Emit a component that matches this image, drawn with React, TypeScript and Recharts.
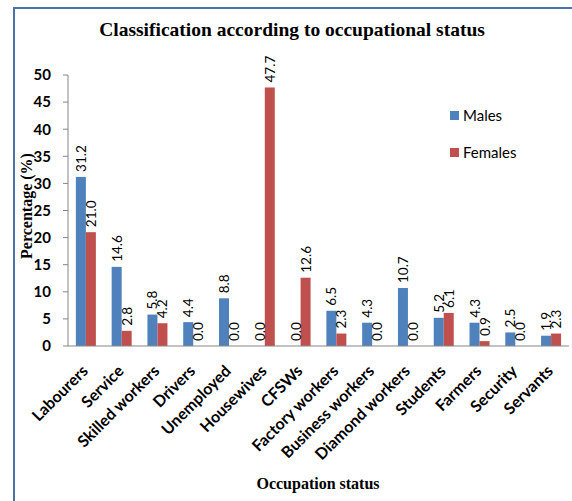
import { BarChart, Bar, XAxis, YAxis, Legend } from 'recharts';

const categories = [
  'Labourers', 'Service', 'Skilled workers', 'Drivers', 'Unemployed', 'Housewives', 'CFSWs',
  'Factory workers', 'Business workers', 'Diamond workers', 'Students', 'Farmers', 'Security', 'Servants',
];
const males = [31.2, 14.6, 5.8, 4.4, 8.8, 0.0, 0.0, 6.5, 4.3, 10.7, 5.2, 4.3, 2.5, 1.9];
const females = [21.0, 2.8, 4.2, 0.0, 0.0, 47.7, 12.6, 2.3, 0.0, 0.0, 6.1, 0.9, 0.0, 2.3];
const yTicks = [0, 5, 10, 15, 20, 25, 30, 35, 40, 45, 50];

const data = categories.map((name, i) => ({ name, males: males[i], females: females[i] }));

const SANS = 'Lato, "Open Sans", sans-serif';
const SERIF = '"Liberation Serif", "Times New Roman", serif';

const XTick = ({ x, payload }: any) => {
  const tx = x + 3;
  const ty = 372;
  return (
    <text
      x={tx}
      y={ty}
      transform={`rotate(-45, ${tx}, ${ty})`}
      textAnchor="end"
      fontFamily={SANS}
      fontWeight={700}
      fontSize={16}
      fill="#000"
    >
      {payload.value}
    </text>
  );
};

const renderValue = (props: any) => {
  const { x, y, width, height, value, index } = props;
  const cx = x + width / 2;
  // zero bars get a 1px placeholder height, so measure from their base
  const top = Number(value) === 0 ? y + height : y;
  const cy = top - 5;
  return (
    <text
      key={`v-${index}-${cx}`}
      x={cx}
      y={cy}
      transform={`rotate(-90, ${cx}, ${cy})`}
      textAnchor="start"
      dominantBaseline="central"
      fontFamily={SANS}
      fontSize={13.5}
      fill="#000"
    >
      {Number(value).toFixed(1)}
    </text>
  );
};

const barShape = (fill: string, key: 'males' | 'females') => (props: any) => {
  const { x, y, width, height, payload } = props;
  if (!payload || payload[key] === 0) return <g />;
  return <rect x={x} y={y} width={width} height={height} fill={fill} />;
};

const LegendBox = () => (
  <div style={{ fontFamily: SANS, fontSize: 15, color: '#000' }}>
    <div style={{ display: 'flex', alignItems: 'center', height: 20 }}>
      <span style={{ width: 9, height: 9, background: '#4F81BD', marginRight: 4 }} />
      Males
    </div>
    <div style={{ display: 'flex', alignItems: 'center', height: 20, marginTop: 17 }}>
      <span style={{ width: 9, height: 9, background: '#C0504D', marginRight: 4 }} />
      Females
    </div>
  </div>
);

export default function App() {
  return (
    <div style={{ position: 'absolute', left: 0, top: 0, width: 572, height: 501, background: '#fff' }}>
      <div
        style={{
          position: 'absolute', left: 13, top: 7, width: 600, height: 520,
          borderLeft: '2px solid #4a74a8', borderTop: '2px solid #4a74a8',
        }}
      />
      <div
        style={{
          position: 'absolute', left: 0, top: 19, width: 584, textAlign: 'center',
          fontFamily: SERIF, fontWeight: 700, fontSize: 19.5, color: '#000',
        }}
      >
        Classification according to occupational status
      </div>
      <div
        style={{
          position: 'absolute', left: 27, top: 206, transform: 'translate(-50%, -50%) rotate(-90deg)',
          whiteSpace: 'nowrap', fontFamily: SERIF, fontWeight: 700, fontSize: 16, color: '#000',
        }}
      >
        Percentage (%)
      </div>
      <div
        style={{
          position: 'absolute', left: 318, top: 475, transform: 'translateX(-50%)',
          whiteSpace: 'nowrap', fontFamily: SERIF, fontWeight: 700, fontSize: 16, color: '#000',
        }}
      >
        Occupation status
      </div>
      <BarChart
        width={572}
        height={501}
        data={data}
        margin={{ top: 75, right: 3, bottom: 0, left: 0 }}
        barCategoryGap="22%"
        barGap={0}
        style={{ position: 'absolute', left: 0, top: 0 }}
      >
        <XAxis
          dataKey="name"
          interval={0}
          height={155}
          tickLine={false}
          axisLine={{ stroke: '#868686' }}
          tick={<XTick />}
        />
        <YAxis
          domain={[0, 50]}
          ticks={yTicks}
          interval={0}
          width={68}
          tickSize={5}
          tickMargin={12}
          axisLine={{ stroke: '#868686' }}
          tickLine={{ stroke: '#868686' }}
          tick={{ fontFamily: SANS, fontWeight: 700, fontSize: 15, fill: '#000' }}
        />
        <Legend
          layout="horizontal"
          verticalAlign="middle"
          align="center"
          content={<LegendBox />}
          wrapperStyle={{ position: 'absolute', left: 450, top: 105, width: 100 }}
        />
        <Bar
          dataKey="males"
          name="Males"
          fill="#4F81BD"
          minPointSize={1}
          shape={barShape('#4F81BD', 'males')}
          isAnimationActive={false}
          label={renderValue}
        />
        <Bar
          dataKey="females"
          name="Females"
          fill="#C0504D"
          minPointSize={1}
          shape={barShape('#C0504D', 'females')}
          isAnimationActive={false}
          label={renderValue}
        />
      </BarChart>
    </div>
  );
}
